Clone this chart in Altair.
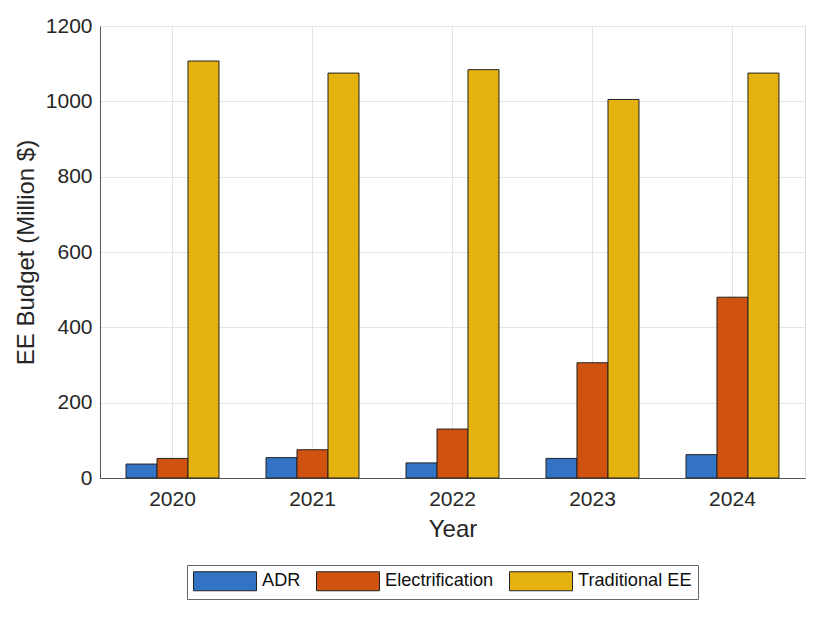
import altair as alt
import pandas as pd

years = ["2020", "2021", "2022", "2023", "2024"]
series = ["ADR", "Electrification", "Traditional EE"]
adr = [37, 54, 40, 52, 62]
electrification = [52, 75, 130, 306, 480]
traditional = [1107, 1075, 1084, 1005, 1075]
colors = ["#3373C4", "#CF5210", "#E5B210"]

rows = []
for name, vals in zip(series, [adr, electrification, traditional]):
    for y, v in zip(years, vals):
        rows.append({"Year": y, "Series": name, "Value": v})
df = pd.DataFrame(rows)

font = "Liberation Sans"

chart = alt.Chart(df).mark_bar(stroke="#222222", strokeWidth=1).encode(
    x=alt.X("Year:N", sort=years,
            scale=alt.Scale(paddingInner=0.336, paddingOuter=0.186),
            axis=alt.Axis(title="Year", labelAngle=0, grid=True, bandPosition=0.5,
                          ticks=False, labelPadding=10, titlePadding=8,
                          labelFontSize=21, titleFontSize=24, titleFontWeight="normal",
                          labelColor="#262626", titleColor="#262626",
                          domainColor="#555555", gridColor="#E3E3E3")),
    xOffset=alt.XOffset("Series:N", sort=series,
                        scale=alt.Scale(paddingInner=0, paddingOuter=0)),
    y=alt.Y("Value:Q",
            scale=alt.Scale(domain=[0, 1200], nice=False),
            axis=alt.Axis(title="EE Budget (Million $)", values=[0, 200, 400, 600, 800, 1000, 1200],
                          format="d", ticks=False, labelPadding=8, titlePadding=7,
                          labelFontSize=21, titleFontSize=24, titleFontWeight="normal",
                          labelColor="#262626", titleColor="#262626",
                          domainColor="#555555", gridColor="#E3E3E3")),
    color=alt.Color("Series:N", sort=series,
                    scale=alt.Scale(domain=series, range=colors),
                    legend=alt.Legend(title=None, orient="none", direction="horizontal",
                                      legendX=87, legendY=539,
                                      symbolType="M-1,-1L5.63,-1L5.63,1L-1,1Z",
                                      symbolSize=361, symbolStrokeColor="#222222",
                                      symbolStrokeWidth=1, symbolOpacity=1,
                                      labelFontSize=18.2, labelColor="#111111",
                                      labelOffset=49, columnPadding=13,
                                      strokeColor="#666666", padding=6,
                                      fillColor="white")),
).properties(width=705, height=452, padding={"left": 6, "top": 7, "right": 5, "bottom": 5})

chart = chart.configure_view(stroke="#555555", strokeWidth=1).configure(font=font)

chart.save("out.html", embed_options={"renderer": "svg", "actions": False})
